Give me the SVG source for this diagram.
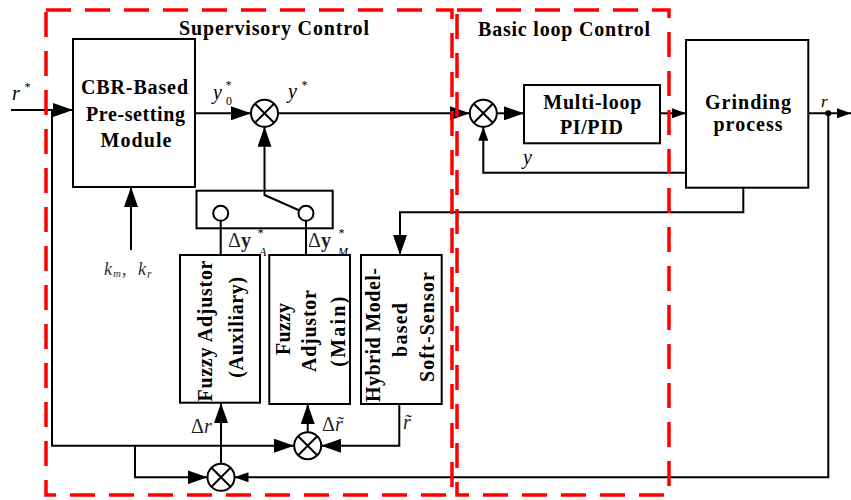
<svg xmlns="http://www.w3.org/2000/svg" width="851" height="500" viewBox="0 0 851 500">
<style>
.ln{fill:none;stroke:#000;stroke-width:2}
.box{fill:#fff;stroke:#000;stroke-width:2}
.sum{fill:#fff;stroke:#000;stroke-width:2}
.red{fill:none;stroke:#f00;stroke-width:3.5;stroke-dasharray:25 14}
.t{font-family:"Liberation Serif","Times New Roman",serif;font-weight:bold;font-size:20px;fill:#000}
.it{font-family:"Liberation Serif","Times New Roman",serif;font-style:italic;font-size:20px;fill:#000}
.sub{font-family:"Liberation Serif","Times New Roman",serif;font-style:italic;font-size:12px;fill:#000}
.rg{font-family:"Liberation Serif","Times New Roman",serif;font-size:20px;fill:#222}
</style>
<defs>
<marker id="ab" viewBox="0 0 20 14" markerWidth="20" markerHeight="14" refX="20" refY="7" orient="auto" markerUnits="userSpaceOnUse"><path d="M0,0 L20,7 L0,14 z" fill="#000"/></marker>
<marker id="am" viewBox="0 0 14 10" markerWidth="14" markerHeight="10" refX="14" refY="5" orient="auto" markerUnits="userSpaceOnUse"><path d="M0,0 L14,5 L0,10 z" fill="#000"/></marker>
<g id="sumsym"><circle r="13.5" class="sum"/><path d="M-9.5,-9.5 L9.5,9.5 M-9.5,9.5 L9.5,-9.5" class="ln"/></g>
</defs>
<rect width="851" height="500" fill="#fff"/>

<g id="connectors">
<path class="ln" d="M11,110 H73" marker-end="url(#ab)"/>
<path class="ln" d="M52,110 V445.7 H294" marker-end="url(#ab)"/>
<path class="ln" d="M195,113.3 H251" marker-end="url(#ab)"/>
<path class="ln" d="M278,113.3 H469.8" marker-end="url(#ab)"/>
<path class="ln" d="M496.8,113.3 H524" marker-end="url(#ab)"/>
<path class="ln" d="M660,113.3 H686" marker-end="url(#am)"/>
<path class="ln" d="M808.3,113.3 H851" marker-end="url(#am)"/>
<circle cx="828.3" cy="113.3" r="3" fill="#000"/>
<path class="ln" d="M686,172.7 H483.3 V126.8" marker-end="url(#am)"/>
<path class="ln" d="M743.3,187.7 V212.3 H400 V255" marker-end="url(#ab)"/>
<path class="ln" d="M264.5,190.7 V126.8" marker-end="url(#ab)"/>
<path class="ln" d="M131,250 V187" marker-end="url(#ab)"/>
<path class="ln" d="M221,463.8 V403" marker-end="url(#ab)"/>
<path class="ln" d="M307.7,432.2 V404" marker-end="url(#ab)"/>
<path class="ln" d="M399.3,404 V445.7 H321.2" marker-end="url(#ab)"/>
<path class="ln" d="M135,445.7 V477.3 H207.5" marker-end="url(#ab)"/>
<path class="ln" d="M828.3,113.3 V477.3 H234.5" marker-end="url(#am)"/>
<path class="ln" d="M220.7,220.8 V255 M306,220.8 V255"/>
</g>

<g id="cbr">
<rect class="box" x="73" y="39" width="122" height="148"/>
<text class="t" x="134.5" y="94.3" text-anchor="middle" textLength="107" lengthAdjust="spacing">CBR-Based</text>
<text class="t" x="135.5" y="120.7" text-anchor="middle" textLength="99" lengthAdjust="spacing">Pre-setting</text>
<text class="t" x="136" y="146.7" text-anchor="middle" textLength="71" lengthAdjust="spacing">Module</text>
</g>

<g id="sum1"><use href="#sumsym" x="264.5" y="113.3"/></g>
<g id="sum2"><use href="#sumsym" x="483.3" y="113.3"/></g>
<g id="sum3"><use href="#sumsym" x="307.7" y="445.7"/></g>
<g id="sum4"><use href="#sumsym" x="221" y="477.3"/></g>

<g id="multiloop">
<rect class="box" x="524" y="85" width="136" height="58.3"/>
<text class="t" x="592.3" y="109.3" text-anchor="middle" textLength="98" lengthAdjust="spacing">Multi-loop</text>
<text class="t" x="591.5" y="134.3" text-anchor="middle" textLength="63" lengthAdjust="spacing">PI/PID</text>
</g>

<g id="grinding">
<rect class="box" x="686" y="40" width="122.3" height="147.7"/>
<text class="t" x="748" y="109.3" text-anchor="middle" textLength="86" lengthAdjust="spacing">Grinding</text>
<text class="t" x="748" y="130.7" text-anchor="middle" textLength="69" lengthAdjust="spacing">process</text>
</g>

<g id="switch">
<rect class="ln" x="196.5" y="190.7" width="136.2" height="37.6"/>
<path class="ln" d="M264.5,190.7 V195 L299.5,210.5"/>
<circle class="sum" cx="220.7" cy="213.3" r="7.5"/>
<circle class="sum" cx="306" cy="213.3" r="7.5"/>
</g>

<g id="fuzzy-aux">
<rect class="box" x="180" y="255" width="80" height="147.7"/>
<text class="t" transform="translate(212,331) rotate(-90)" text-anchor="middle" textLength="141" lengthAdjust="spacing">Fuzzy Adjustor</text>
<text class="t" transform="translate(243,327.3) rotate(-90)" text-anchor="middle" textLength="101" lengthAdjust="spacing">(Auxiliary)</text>
</g>

<g id="fuzzy-main">
<rect class="box" x="269.3" y="255" width="80.7" height="149"/>
<text class="t" transform="translate(290,329) rotate(-90)" text-anchor="middle" textLength="52" lengthAdjust="spacing">Fuzzy</text>
<text class="t" transform="translate(316,331) rotate(-90)" text-anchor="middle" textLength="82" lengthAdjust="spacing">Adjustor</text>
<text class="t" transform="translate(345,331.7) rotate(-90)" text-anchor="middle" textLength="70" lengthAdjust="spacing">(Main)</text>
</g>

<g id="softsensor">
<rect class="box" x="361" y="255" width="80.7" height="149"/>
<text class="t" transform="translate(380,335) rotate(-90)" text-anchor="middle" textLength="134" lengthAdjust="spacing">Hybrid Model-</text>
<text class="t" transform="translate(407,330) rotate(-90)" text-anchor="middle" textLength="54" lengthAdjust="spacing">based</text>
<text class="t" transform="translate(434,327) rotate(-90)" text-anchor="middle" textLength="110" lengthAdjust="spacing">Soft-Sensor</text>
</g>

<g id="labels">
<text class="it" x="12" y="100">r</text><text class="sub" x="24" y="91">*</text>
<text class="it" x="213" y="99">y</text><text class="sub" x="225" y="89">*</text><text class="sub" style="font-style:normal" x="226" y="105">0</text>
<text class="it" x="288" y="98">y</text><text class="sub" x="301" y="89">*</text>
<text class="it" x="523" y="164">y</text>
<text class="it" style="font-size:17px" x="821" y="107">r</text>
<text class="rg" x="228" y="247">Δ<tspan style="font-weight:bold">y</tspan></text><text class="sub" x="257" y="237">*</text><text class="sub" x="259" y="256">A</text>
<text class="rg" x="308" y="247">Δ<tspan style="font-weight:bold">y</tspan></text><text class="sub" x="338" y="237">*</text><text class="sub" x="338" y="256">M</text>
<text class="it" style="fill:#333;font-size:18px" x="104" y="275">k</text><text class="sub" style="fill:#333;font-size:11px" x="113" y="277">m</text><text class="it" style="fill:#333;font-size:18px" x="122" y="275">,</text>
<text class="it" style="fill:#333;font-size:18px" x="138" y="275">k</text><text class="sub" style="fill:#333;font-size:12px" x="147" y="278">r</text>
<text class="rg" x="191" y="433">Δ<tspan font-style="italic">r</tspan></text>
<text class="rg" x="322" y="431">Δ<tspan font-style="italic">r&#771;</tspan></text>
<text class="it" style="fill:#222" x="403" y="429">r&#771;</text>
</g>

<g id="regions">
<rect class="red" x="46" y="10" width="406" height="485"/>
<rect class="red" x="457" y="10" width="212" height="485"/>
<text class="t" x="274" y="35" text-anchor="middle" textLength="190" lengthAdjust="spacing">Supervisory Control</text>
<text class="t" x="564" y="36" text-anchor="middle" textLength="172" lengthAdjust="spacing">Basic loop Control</text>
</g>
</svg>
